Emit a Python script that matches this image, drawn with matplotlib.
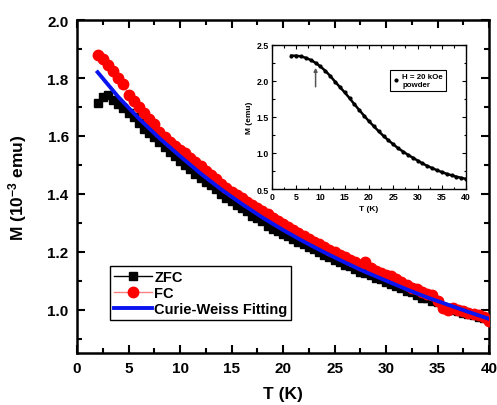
"""
Curva M(T) ZFC / FC con ajuste Curie-Weiss, más inset con M(T) a H = 20 kOe.
"""

import matplotlib
matplotlib.use("Agg")
import matplotlib.pyplot as plt
from matplotlib.ticker import MultipleLocator

plt.rcParams["font.family"] = ["Liberation Sans", "DejaVu Sans"]
plt.rcParams["font.weight"] = "bold"
plt.rcParams["mathtext.fontset"] = "custom"
plt.rcParams["mathtext.rm"] = "Liberation Sans:bold"
plt.rcParams["mathtext.bf"] = "Liberation Sans:bold"
plt.rcParams["mathtext.default"] = "bf"

# ─────────────────────────────────────────────────────────
#  Datos
# ─────────────────────────────────────────────────────────
T = [2.0, 2.5, 3.0, 3.5, 4.0, 4.5, 5.0, 5.5, 6.0, 6.5,
     7.0, 7.5, 8.0, 8.5, 9.0, 9.5, 10.0, 10.5, 11.0, 11.5,
     12.0, 12.5, 13.0, 13.5, 14.0, 14.5, 15.0, 15.5, 16.0, 16.5,
     17.0, 17.5, 18.0, 18.5, 19.0, 19.5, 20.0, 20.5, 21.0, 21.5,
     22.0, 22.5, 23.0, 23.5, 24.0, 24.5, 25.0, 25.5, 26.0, 26.5,
     27.0, 27.5, 28.0, 28.5, 29.0, 29.5, 30.0, 30.5, 31.0, 31.5,
     32.0, 32.5, 33.0, 33.5, 34.0, 34.5, 35.0, 35.5, 36.0, 36.5,
     37.0, 37.5, 38.0, 38.5, 39.0, 39.5, 40.0]

M_zfc = [1.715, 1.735, 1.740, 1.725, 1.710, 1.695, 1.680, 1.665, 1.645, 1.625,
         1.610, 1.595, 1.578, 1.560, 1.545, 1.530, 1.515, 1.500, 1.485, 1.470,
         1.455, 1.440, 1.430, 1.415, 1.400, 1.385, 1.375, 1.360, 1.350, 1.340,
         1.325, 1.315, 1.305, 1.290, 1.280, 1.270, 1.260, 1.255, 1.245, 1.235,
         1.225, 1.215, 1.210, 1.200, 1.190, 1.180, 1.170, 1.165, 1.155, 1.150,
         1.140, 1.130, 1.125, 1.120, 1.110, 1.105, 1.095, 1.090, 1.080, 1.075,
         1.065, 1.060, 1.050, 1.040, 1.040, 1.030, 1.025, 1.010, 1.005, 1.000,
         0.995, 0.990, 0.985, 0.980, 0.975, 0.970, 0.965]

M_fc = [1.880, 1.865, 1.845, 1.825, 1.800, 1.780, 1.740, 1.720, 1.700, 1.680,
        1.660, 1.640, 1.615, 1.595, 1.580, 1.565, 1.550, 1.540, 1.525, 1.510,
        1.495, 1.480, 1.465, 1.450, 1.435, 1.420, 1.405, 1.395, 1.385, 1.370,
        1.360, 1.350, 1.340, 1.330, 1.315, 1.305, 1.295, 1.285, 1.275, 1.265,
        1.255, 1.245, 1.235, 1.225, 1.215, 1.205, 1.198, 1.190, 1.180, 1.170,
        1.165, 1.155, 1.165, 1.145, 1.135, 1.125, 1.120, 1.115, 1.105, 1.095,
        1.085, 1.075, 1.070, 1.060, 1.055, 1.050, 1.030, 1.005, 1.000, 1.005,
        1.000, 0.995, 0.990, 0.985, 0.980, 0.975, 0.960]

T_fit = [2, 4, 6, 8, 10, 12, 14, 16, 18, 20,
         22, 24, 26, 28, 30, 32, 34, 36, 38, 40]
M_fit = [1.820, 1.735, 1.660, 1.592, 1.530, 1.470, 1.415, 1.365, 1.318, 1.275,
         1.235, 1.198, 1.163, 1.130, 1.100, 1.070, 1.042, 1.017, 0.992, 0.968]

# inset: H = 20 kOe, powder
T_ins = [4, 5, 6, 7, 8, 9, 10, 11, 12, 13,
         14, 15, 16, 17, 18, 19, 20, 21, 22, 23,
         24, 25, 26, 27, 28, 29, 30, 31, 32, 33,
         34, 35, 36, 37, 38, 39, 40]
M_ins = [2.35, 2.35, 2.34, 2.32, 2.29, 2.25, 2.20, 2.14, 2.07, 1.99,
         1.915, 1.84, 1.76, 1.675, 1.595, 1.515, 1.44, 1.37, 1.30, 1.235,
         1.175, 1.12, 1.065, 1.02, 0.975, 0.935, 0.895, 0.855, 0.82, 0.79,
         0.76, 0.735, 0.71, 0.69, 0.67, 0.655, 0.64]


# ─────────────────────────────────────────────────────────
#  Figura principal
# ─────────────────────────────────────────────────────────
fig = plt.figure(figsize=(4.97, 4.06), dpi=100)
ax = fig.add_axes([0.155, 0.128, 0.829, 0.820])

ax.plot(T, M_zfc, "s-", color="black", mec="black", mfc="black",
        ms=6, lw=1, label="ZFC", zorder=2)
ax.plot(T, M_fc, "o-", color="#ff8080", mec="red", mfc="red",
        ms=7.5, lw=1, label="FC", zorder=3)
ax.plot(T_fit, M_fit, "-", color="#0a14f0", lw=2.8,
        label="Curie-Weiss Fitting", zorder=4)

ax.set_xlim(0, 40)
ax.set_ylim(0.85, 2.0)
ax.xaxis.set_major_locator(MultipleLocator(5))
ax.xaxis.set_minor_locator(MultipleLocator(2.5))
ax.yaxis.set_major_locator(MultipleLocator(0.2))
ax.yaxis.set_minor_locator(MultipleLocator(0.1))
ax.tick_params(which="both", direction="in", top=True, right=True,
               labelsize=11, width=1.5)
ax.tick_params(which="major", length=6, pad=6)
ax.tick_params(which="minor", length=3.5)
for s in ax.spines.values():
    s.set_linewidth(1.8)

ax.set_xlabel("T (K)", fontsize=12.5, fontweight="bold", labelpad=8)
ax.set_ylabel("M (10$^{-3}$ emu)", fontsize=12.5, fontweight="bold", labelpad=13)

leg = ax.legend(loc="lower left", bbox_to_anchor=(0.08, 0.099),
                borderaxespad=0, fontsize=10.5, handlelength=2.6,
                handletextpad=0.2, labelspacing=0.15, borderpad=0.25,
                fancybox=False, framealpha=1, edgecolor="black")
leg.get_frame().set_linewidth(1)

# ─────────────────────────────────────────────────────────
#  Inset
# ─────────────────────────────────────────────────────────
ins = fig.add_axes([0.547, 0.532, 0.391, 0.355])
ins.plot(T_ins, M_ins, "-", color="black", lw=1.8, zorder=2)
ins.plot(T_ins, M_ins, "o", color="black", ms=2.0,
         label="H = 20 kOe\npowder", zorder=3)
ins.annotate("", xy=(9, 2.22), xytext=(9, 1.88),
             arrowprops=dict(arrowstyle="-|>", color="#555555",
                             lw=1.1, mutation_scale=5))

ins.set_xlim(0, 40)
ins.set_ylim(0.5, 2.5)
ins.xaxis.set_major_locator(MultipleLocator(5))
ins.xaxis.set_minor_locator(MultipleLocator(2.5))
ins.yaxis.set_major_locator(MultipleLocator(0.5))
ins.yaxis.set_minor_locator(MultipleLocator(0.25))
ins.tick_params(which="both", direction="in", top=True, right=True,
                labelsize=6.3, width=0.8, pad=2)
ins.tick_params(which="major", length=3)
ins.tick_params(which="minor", length=1.8)
for s in ins.spines.values():
    s.set_linewidth(1)

ins.set_xlabel("T (K)", fontsize=6, fontweight="bold", labelpad=3)
ins.set_ylabel("M (emu)", fontsize=6, fontweight="bold", labelpad=3)

ileg = ins.legend(loc="lower left", bbox_to_anchor=(0.609, 0.68),
                  borderaxespad=0, fontsize=5.7, handlelength=0.8,
                  handletextpad=0.4, borderpad=0.35,
                  fancybox=False, framealpha=1, edgecolor="black")
ileg.get_frame().set_linewidth(0.8)

fig.savefig("out.png", dpi=100)
